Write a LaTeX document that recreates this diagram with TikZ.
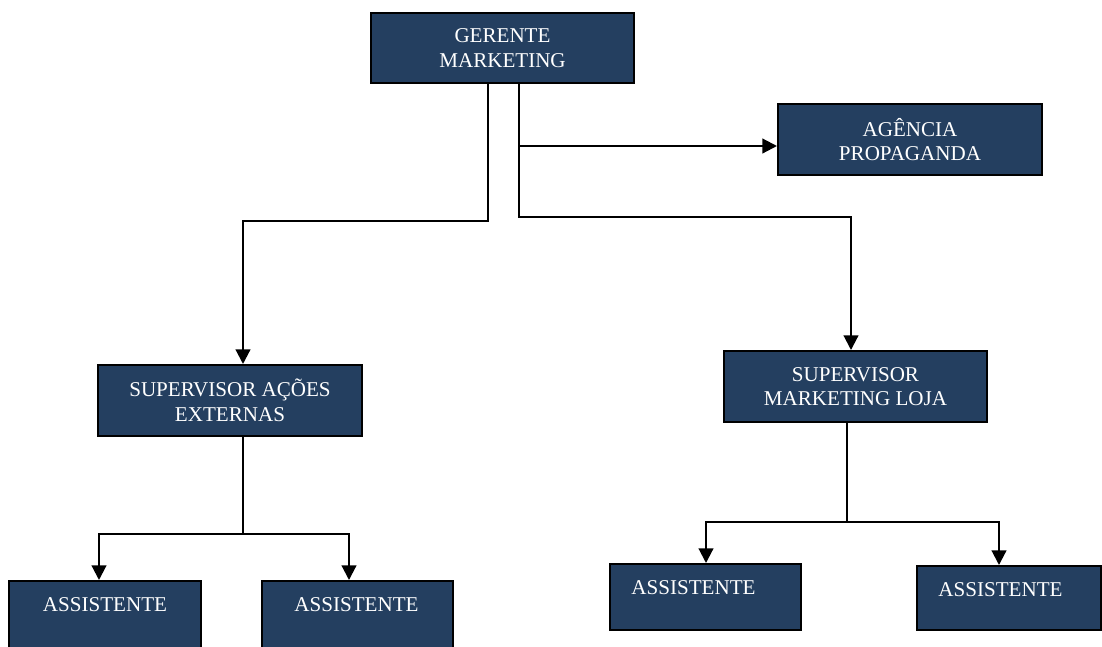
\documentclass[tikz,border=0pt]{standalone}
\usepackage{fontspec}
\setmainfont{Liberation Serif}
\usetikzlibrary{arrows.meta,calc}
\definecolor{boxblue}{RGB}{36,63,96}
\tikzset{
  box/.style={draw=black, line width=1.5pt, fill=boxblue, text=white, align=center,
    inner sep=0pt, font=\fontsize{15.8}{18.5}\selectfont},
  lbl/.style={text=white, inner sep=0pt, anchor=north, font=\fontsize{15.8}{18.5}\selectfont},
  conn/.style={draw=black, line width=1.6pt},
  arr/.style={conn, -{Triangle[width=11pt,length=11pt]}}
}
\begin{document}
\begin{tikzpicture}[x=0.75pt,y=-0.75pt]
\useasboundingbox (0,0) rectangle (1102,646);
\clip (0,0) rectangle (1102,646);
\node[box, minimum width=197.25pt, minimum height=52.5pt] (ger) at (502.5,48) {GERENTE\\MARKETING};
\node[box, minimum width=198pt, minimum height=53.25pt] (ag) at (910,139.5) {AGÊNCIA\\PROPAGANDA};
\node[box, minimum width=198pt, minimum height=53.25pt] (sa) at (230,400.5) {SUPERVISOR AÇÕES\\EXTERNAS};
\node[box, minimum width=197.25pt, minimum height=53.25pt] (sm) at (855.5,386.5) {SUPERVISOR\\MARKETING LOJA};
\node[box, minimum width=144pt, minimum height=60pt,
  label={[lbl, anchor=north, yshift=-12.75pt]north:ASSISTENTE}] (a1) at (105,621) {};
\node[box, minimum width=143.25pt, minimum height=60pt,
  label={[lbl, anchor=north, yshift=-12.75pt, xshift=-0.75pt]north:ASSISTENTE}] (a2) at (357.5,621) {};
\node[box, minimum width=143.25pt, minimum height=49.5pt,
  label={[lbl, anchor=north, yshift=-12.75pt, xshift=-9pt]north:ASSISTENTE}] (a3) at (705.5,597) {};
\node[box, minimum width=138pt, minimum height=48pt,
  label={[lbl, anchor=north, yshift=-12.75pt, xshift=-6.4pt]north:ASSISTENTE}] (a4) at (1009,598) {};
% connectors from GERENTE
\draw[arr] ($(ger.south)+(-14.5,0)$) -- ++(0,137) -| ($(sa.north)+(13,0)$);
\draw[arr] ($(ger.south)+(16.5,0)$) -- ++(0,133) -| ($(sm.north)+(-4.5,0)$);
\coordinate (b1) at ($(ger.south)+(16.5,62)$);
\draw[arr] (b1) -- (b1 -| ag.west);
% from SUPERVISOR ACOES
\draw[conn] ($(sa.south)+(13,0)$) -- ++(0,97) coordinate (s1);
\draw[arr] (s1) -| ($(a1.north)+(-6,0)$);
\draw[arr] (s1) -| ($(a2.north)+(-8.5,0)$);
% from SUPERVISOR MARKETING LOJA
\draw[conn] ($(sm.south)+(-8.5,0)$) -- ++(0,99) coordinate (s2);
\draw[arr] (s2) -| ($(a3.north)+(0.5,0)$);
\draw[arr] (s2) -| ($(a4.north)+(-10,0)$);
\end{tikzpicture}
\end{document}
